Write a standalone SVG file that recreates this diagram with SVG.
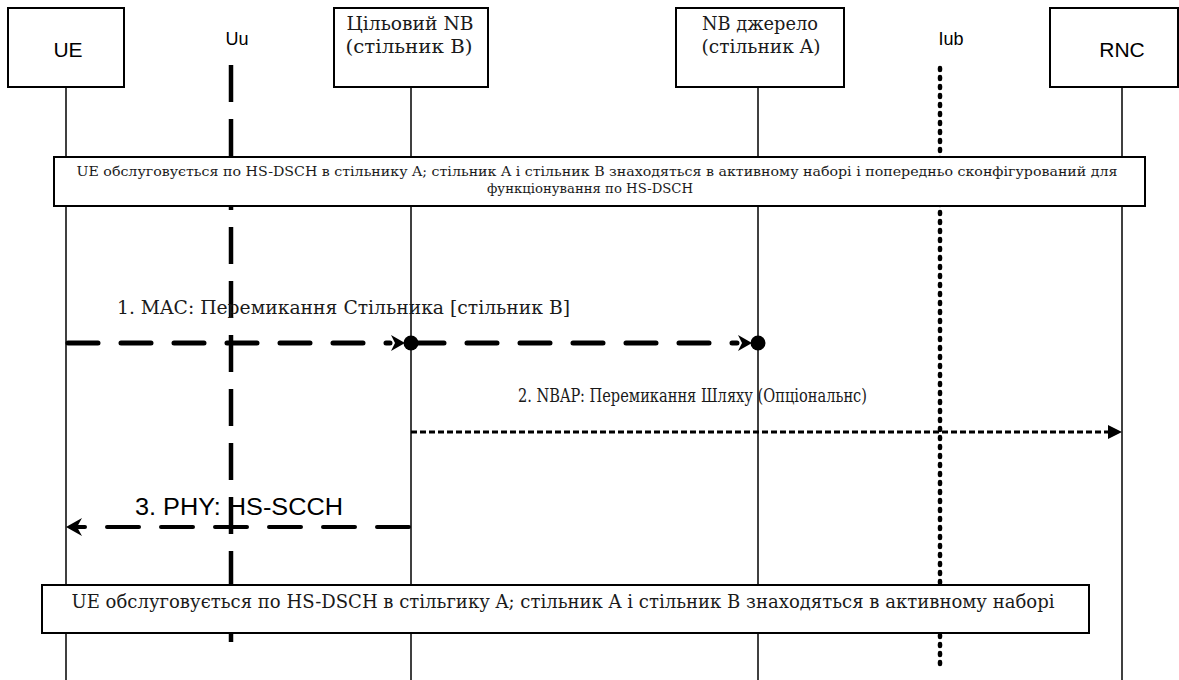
<svg xmlns="http://www.w3.org/2000/svg" width="1179" height="680" viewBox="0 0 1179 680">
  <style>
    .box { fill: #ffffff; stroke: #000000; stroke-width: 2; }
    .note { fill: #ffffff; stroke: #000000; stroke-width: 2; }
    .life { stroke: #000000; stroke-width: 1.5; fill: none; }
    .sans { font-family: "Liberation Sans", Arial, sans-serif; fill: #000000; }
    .serif { font-family: "DejaVu Serif", "Liberation Serif", serif; fill: #1a1a1a; }
    .uu { stroke: #000000; stroke-width: 4.5; stroke-dasharray: 37 17; fill: none; }
    .iub { stroke: #000000; stroke-width: 4.5; stroke-dasharray: 2 7; stroke-linecap: round; fill: none; }
    .mac { stroke: #000000; stroke-width: 5; stroke-dasharray: 30 23; stroke-linecap: round; fill: none; }
    .nbap { stroke: #000000; stroke-width: 3; stroke-dasharray: 6 3; fill: none; }
    .phy { stroke: #000000; stroke-width: 4; stroke-dasharray: 32 22; stroke-linecap: round; fill: none; }
  </style>
  <defs>
    <!-- barbed head ending on a dot placed on the lifeline -->
    <g id="headDot">
      <path d="M-20,-8 L-6,0 L-20,8 L-16,0 Z" fill="#000000"/>
      <circle cx="0" cy="0" r="7.5" fill="#000000"/>
    </g>
  </defs>

  <rect width="1179" height="680" fill="#ffffff"/>

  <!-- lifelines and interface lines -->
  <g id="lifelines">
    <line class="life" x1="66" y1="87" x2="66" y2="680"/>
    <line class="life" x1="411" y1="87" x2="411" y2="680"/>
    <line class="life" x1="758" y1="87" x2="758" y2="680"/>
    <line class="life" x1="1122" y1="87" x2="1122" y2="680"/>
    <line class="uu" x1="231" y1="65" x2="231" y2="655"/>
    <line class="iub" x1="940" y1="68" x2="940" y2="668"/>
  </g>

  <g id="ue">
    <rect class="box" x="8" y="8" width="116" height="79"/>
    <text class="sans" x="68" y="57" font-size="21" text-anchor="middle">UE</text>
  </g>

  <g id="uu">
    <text class="sans" x="237" y="45" font-size="18" text-anchor="middle">Uu</text>
  </g>

  <g id="target-nb">
    <rect class="box" x="334" y="8" width="154" height="79"/>
    <text class="serif" x="410" y="30" font-size="19" text-anchor="middle" textLength="127" lengthAdjust="spacingAndGlyphs">Цільовий NB</text>
    <text class="serif" x="409" y="53" font-size="19" text-anchor="middle" textLength="127" lengthAdjust="spacingAndGlyphs">(стільник B)</text>
  </g>

  <g id="source-nb">
    <rect class="box" x="676" y="8" width="168" height="79"/>
    <text class="serif" x="760" y="30" font-size="19" text-anchor="middle" textLength="116" lengthAdjust="spacingAndGlyphs">NB джерело</text>
    <text class="serif" x="761" y="53" font-size="19" text-anchor="middle" textLength="119" lengthAdjust="spacingAndGlyphs">(стільник A)</text>
  </g>

  <g id="iub">
    <text class="sans" x="951" y="45" font-size="18" text-anchor="middle">Iub</text>
  </g>

  <g id="rnc">
    <rect class="box" x="1050" y="8" width="128" height="79"/>
    <text class="sans" x="1122" y="57" font-size="21" text-anchor="middle">RNC</text>
  </g>

  <g id="note-initial">
    <rect class="note" x="54" y="157" width="1091" height="49"/>
    <text class="serif" x="597" y="176" font-size="13" text-anchor="middle" textLength="1041" lengthAdjust="spacingAndGlyphs">UE обслуговується по HS-DSCH в стільнику A; стільник A і стільник B знаходяться в активному наборі і попередньо сконфігурований для</text>
    <text class="serif" x="590" y="193" font-size="13" text-anchor="middle" textLength="206" lengthAdjust="spacingAndGlyphs">функціонування по HS-DSCH</text>
  </g>

  <g id="note-final">
    <rect class="note" x="42" y="585" width="1047" height="48"/>
    <text class="serif" x="563" y="608" font-size="19" text-anchor="middle" textLength="983" lengthAdjust="spacingAndGlyphs">UE обслуговується по HS-DSCH в стільгику A; стільник A і стільник B знаходяться в активному наборі</text>
  </g>

  <!-- messages -->
  <g id="connectors">
    <g id="msg-mac">
      <line class="mac" x1="68" y1="343" x2="390" y2="343"/>
      <use href="#headDot" x="411" y="343"/>
      <line class="mac" x1="414" y1="343" x2="737" y2="343"/>
      <use href="#headDot" x="758" y="343"/>
      <text class="serif" x="117" y="314" font-size="19" textLength="453" lengthAdjust="spacingAndGlyphs">1. MAC: Перемикання Стільника [стільник B]</text>
    </g>
    <g id="msg-nbap">
      <line class="nbap" x1="411" y1="432" x2="1110" y2="432"/>
      <path d="M1122,432 L1108,425 L1108,439 Z" fill="#000000"/>
      <text class="serif" x="518" y="402" font-size="19" textLength="349" lengthAdjust="spacingAndGlyphs">2.  NBAP: Перемикання Шляху (Опціональнс)</text>
    </g>
    <g id="msg-phy">
      <line class="phy" x1="409" y1="527" x2="78" y2="527"/>
      <path d="M66,527 L82,518 L77,527 L82,536 Z" fill="#000000"/>
      <text class="sans" x="135" y="515" font-size="23" textLength="208" lengthAdjust="spacingAndGlyphs">3. PHY: HS-SCCH</text>
    </g>
  </g>
</svg>
